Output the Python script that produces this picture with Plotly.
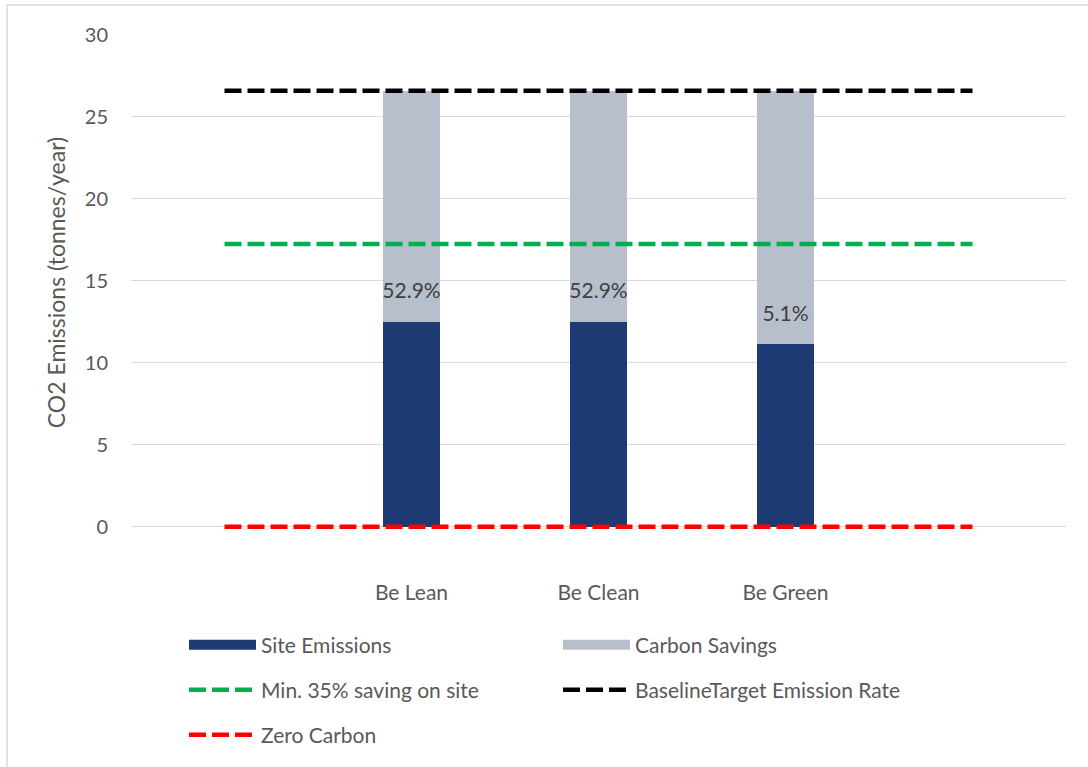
import plotly.graph_objects as go

# Data
categories = ["", "Be Lean", "Be Clean", "Be Green", ""]
bar_categories = ["Be Lean", "Be Clean", "Be Green"]
site_emissions = [12.5, 12.5, 11.15]
carbon_savings = [14.1, 14.1, 15.45]
saving_labels = ["52.9%", "52.9%", "5.1%"]
baseline_rate = [26.6, 26.6, 26.6, 26.6, 26.6]
min_35_saving = [17.25, 17.25, 17.25, 17.25, 17.25]
zero_carbon = [0, 0, 0, 0, 0]

FONT = "Lato"
TXT = "#595959"
DASH = "17px,6px"
DARK = "#1E3A72"
LIGHT = "#B8BFCC"

pos_all = list(range(len(categories)))
pos_bars = [categories.index(c) for c in bar_categories]

fig = go.Figure()
fig.add_trace(go.Bar(x=pos_bars, y=site_emissions, name="Site Emissions",
                     marker=dict(color=DARK, line=dict(width=0)), width=0.31,
                     showlegend=False))
fig.add_trace(go.Bar(x=pos_bars, y=carbon_savings, name="Carbon Savings",
                     marker=dict(color=LIGHT, line=dict(width=0)), width=0.31,
                     showlegend=False))
# legend proxies for bars (wide rectangle swatches)
fig.add_trace(go.Scatter(x=[None], y=[None], mode="lines", name="Site Emissions",
                         line=dict(color=DARK, width=16), legend="legend"))
fig.add_trace(go.Scatter(x=[None], y=[None], mode="lines", name="Carbon Savings",
                         line=dict(color=LIGHT, width=16), legend="legend"))
fig.add_trace(go.Scatter(x=pos_bars, y=[s + 1.75 for s in site_emissions],
                         mode="text", text=saving_labels, showlegend=False,
                         textfont=dict(family=FONT, size=21, color="#404040"),
                         hoverinfo="skip"))
fig.add_trace(go.Scatter(x=pos_all, y=min_35_saving, mode="lines",
                         name="Min. 35% saving on site", cliponaxis=False,
                         line=dict(color="#00B050", width=4.5, dash=DASH), legend="legend2"))
fig.add_trace(go.Scatter(x=pos_all, y=baseline_rate, mode="lines",
                         name="BaselineTarget Emission Rate", cliponaxis=False,
                         line=dict(color="#000000", width=4.5, dash=DASH), legend="legend2"))
fig.add_trace(go.Scatter(x=pos_all, y=zero_carbon, mode="lines",
                         name="Zero Carbon", cliponaxis=False,
                         line=dict(color="#FF0000", width=4.5, dash=DASH), legend="legend3"))

legend_common = dict(orientation="h", xanchor="left", yanchor="middle",
                     xref="container", yref="container",
                     entrywidth=292, entrywidthmode="pixels", itemwidth=67,
                     font=dict(family=FONT, size=21, color=TXT),
                     bgcolor="rgba(0,0,0,0)", traceorder="normal")
x_leg = 184 / 1088

fig.update_layout(
    width=1088, height=767,
    margin=dict(l=131, r=22, t=35, b=237),
    paper_bgcolor="white", plot_bgcolor="white",
    barmode="stack", bargap=0,
    font=dict(family=FONT, size=18, color=TXT),
    xaxis=dict(range=[-0.5, len(categories) - 0.5], tickmode="array",
               tickvals=pos_bars, ticktext=bar_categories, showgrid=False,
               zeroline=False, showline=False, ticks="", ticklen=0,
               ticklabelstandoff=48,
               tickfont=dict(family=FONT, size=21, color=TXT)),
    yaxis=dict(range=[-0.2, 30], tickvals=[0, 5, 10, 15, 20, 25, 30], showgrid=True,
               gridcolor="#D9D9D9", gridwidth=1, zeroline=False, showline=False,
               ticks="", tickfont=dict(family=FONT, size=20, color=TXT),
               ticklabelstandoff=22,
               title=dict(text="CO2 Emissions (tonnes/year)",
                          font=dict(family=FONT, size=23, color=TXT), standoff=12)),
    legend=dict(**legend_common, x=x_leg, y=1 - 645 / 767),
    legend2=dict(**legend_common, x=x_leg, y=1 - 690 / 767),
    legend3=dict(**legend_common, x=x_leg, y=1 - 735 / 767),
    shapes=[dict(type="rect", xref="paper", yref="paper",
                 x0=(7 - 131) / 935, x1=(1100 - 131) / 935,
                 y0=-0.6, y1=1 + 30 / 495,
                 line=dict(color="#D9D9D9", width=1.5), fillcolor="rgba(0,0,0,0)",
                 layer="below")],
    showlegend=True,
)

fig.write_html("out.html")
